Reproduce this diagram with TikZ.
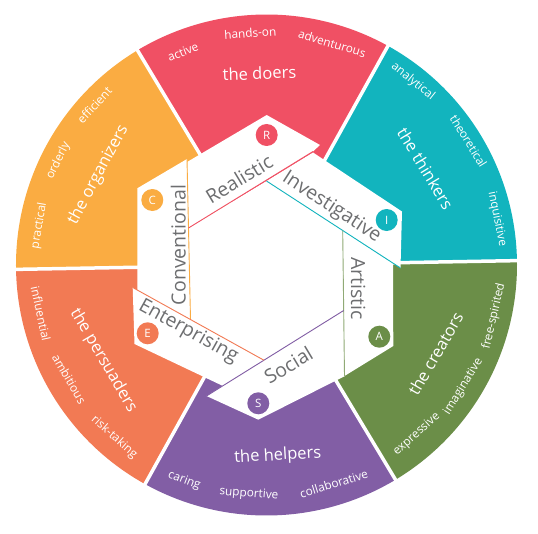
\documentclass[tikz,border=0pt]{standalone}
\usepackage{fontspec}
\setmainfont{Open Sans}
\usepackage{tikz}
\definecolor{doers}{HTML}{F05064}
\definecolor{thinkers}{HTML}{12B4BE}
\definecolor{creators}{HTML}{6B8E48}
\definecolor{helpers}{HTML}{825EA5}
\definecolor{persuaders}{HTML}{F27A54}
\definecolor{organizers}{HTML}{FAAC42}
\definecolor{labelgrey}{HTML}{6D6E70}

\begin{document}
\begin{tikzpicture}[x=1pt,y=1pt,
  trait/.style={text=white,inner sep=0pt,font=\fontsize{11.8}{14}\selectfont},
  group/.style={text=white,inner sep=0pt,font=\fontsize{16.5}{20}\selectfont},
  bandlabel/.style={text=labelgrey,inner sep=0pt,font=\fontsize{19.5}{22}\selectfont},
  badge/.style={circle,minimum size=22pt,inner sep=0pt,text=white,font=\fontsize{11.5}{13}\selectfont},
  edge/.style={line width=0.9pt}]
\useasboundingbox (-266.5,-268) rectangle (271.5,265);
% colour wheel
\fill[thinkers] (0,0) -- (1:250.5) arc[start angle=1,end angle=61,radius=250.5] -- cycle;
\fill[doers] (0,0) -- (61:250.5) arc[start angle=61,end angle=121,radius=250.5] -- cycle;
\fill[organizers] (0,0) -- (121:250.5) arc[start angle=121,end angle=181,radius=250.5] -- cycle;
\fill[persuaders] (0,0) -- (181:250.5) arc[start angle=181,end angle=241,radius=250.5] -- cycle;
\fill[helpers] (0,0) -- (241:250.5) arc[start angle=241,end angle=301,radius=250.5] -- cycle;
\fill[creators] (0,0) -- (301:250.5) arc[start angle=301,end angle=361,radius=250.5] -- cycle;
\draw[white,line width=3.5pt] (0,0) -- (1:252) (0,0) -- (61:252) (0,0) -- (121:252);
\draw[white,line width=3.5pt] (0,0) -- (181:252) (0,0) -- (241:252) (0,0) -- (301:252);
% hexagon corners
\coordinate (v1) at (-78,37);\coordinate (v2) at (0,84);\coordinate (v3) at (76.2,34.5);
\coordinate (v4) at (77.2,-45.5);\coordinate (v5) at (-2.6,-95.2);\coordinate (v6) at (-76,-54.5);
% far ends of the bands
\coordinate (cend) at (-79.5,106);\coordinate (rend) at (46.5,113.5);\coordinate (iend) at (134,-3);
\coordinate (aend) at (78,-111);\coordinate (send) at (-60,-131);\coordinate (eend) at (-133.8,-22.5);
\fill[white] (v1) -- (v2) -- (v3) -- (v4) -- (v5) -- (v6) -- cycle;
\fill[white] (v6) -- (cend) -- (-129.2,76.7) -- (-129,-30) -- cycle;
\fill[white] (v1) -- (-79.4,103) -- (0.2,150) -- (53.5,120) -- (rend) -- cycle;
\fill[white] (v2) -- (46.5,112.5) -- (135.5,53.5) -- (iend) -- cycle;
\fill[white] (v3) -- (126.5,1.5) -- (126.8,-81) -- (aend) -- cycle;
\fill[white] (v4) -- (78.5,-111) -- (-8.2,-154.7) -- (send) -- cycle;
\fill[white] (v5) -- (-43.9,-120.8) -- (-132,-79) -- (eend) -- cycle;
\draw[edge,organizers] (v6) -- (cend);\draw[edge,doers] (v1) -- (rend);\draw[edge,thinkers] (v2) -- (iend);
\draw[edge,creators!75] (v3) -- (aend);\draw[edge,helpers] (v4) -- (send);\draw[edge,persuaders] (v5) -- (eend);
% band labels and badges
\node[bandlabel,rotate=31] (realistic) at (-27.5,86) {Realistic};
\node[bandlabel,rotate=-33] (investigative) at (65,57.5) {Investigative};
\node[bandlabel,rotate=-90] (artistic) at (91.8,-23.3) {Artistic};
\node[bandlabel,rotate=31] (social) at (21.8,-100) {Social};
\node[bandlabel,rotate=-29] (enterprising) at (-78.2,-66.7) {Enterprising};
\node[bandlabel,rotate=90] (conventional) at (-88.2,20) {Conventional};
\node[badge,fill=doers] (rbadge) at (0.2,130) {R};
\node[badge,fill=thinkers] (ibadge) at (120.2,45) {I};
\node[badge,fill=creators] (abadge) at (112.8,-71.7) {A};
\node[badge,fill=helpers] (sbadge) at (-8.2,-138.3) {S};
\node[badge,fill=persuaders] (ebadge) at (-118.8,-68.3) {E};
\node[badge,fill=organizers] (cbadge) at (-114.2,65) {C};
% group names
\node[group,rotate=2.1] (doers) at (92.1:192) {the doers};
\node[group,rotate=-58.7] (thinkers) at (31.3:186) {the thinkers};
\node[group,rotate=61.8] (organizers) at (151.8:190.8) {the organizers};
\node[group,rotate=-59.7] (persuaders) at (210.3:189) {the persuaders};
\node[group,rotate=3.4] (helpers) at (273.4:191.3) {the helpers};
\node[group,rotate=60] (creators) at (332.3:190.9) {the creators};
% traits
\node[trait,rotate=21.4] (active) at (111.4:229) {active};
\node[trait,rotate=4] (handson) at (94:232.6) {hands-on};
\node[trait,rotate=-16.5] (adventurous) at (73.5:231) {adventurous};
\node[trait,rotate=-38.6] (analytical) at (51.4:234.7) {analytical};
\node[trait,rotate=-58.5] (theoretical) at (31.5:237) {theoretical};
\node[trait,rotate=-78.7] (inquisitive) at (11.3:235) {inquisitive};
\node[trait,rotate=80.2] (practical) at (170.2:230.7) {practical};
\node[trait,rotate=63.4] (orderly) at (153.4:232.8) {orderly};
\node[trait,rotate=47.1] (efficient) at (137.1:235) {efficient};
\node[trait,rotate=-77.8] (influential) at (192.2:230.9) {influential};
\node[trait,rotate=-60] (ambitious) at (210:227.8) {ambitious};
\node[trait,rotate=-41.5] (risktaking) at (228.5:229.9) {risk-taking};
\node[trait,rotate=-20.9] (caring) at (249.1:230.7) {caring};
\node[trait,rotate=-4.4] (supportive) at (265.6:229.7) {supportive};
\node[trait,rotate=17.1] (collaborative) at (287.1:228.9) {collaborative};
\node[trait,rotate=41.8] (expressive) at (311.6:226.3) {expressive};
\node[trait,rotate=58.1] (imaginative) at (328.3:231.4) {imaginative};
\node[trait,rotate=77.1] (freespirited) at (347.3:233.2) {free-spirited};
\end{tikzpicture}
\end{document}
